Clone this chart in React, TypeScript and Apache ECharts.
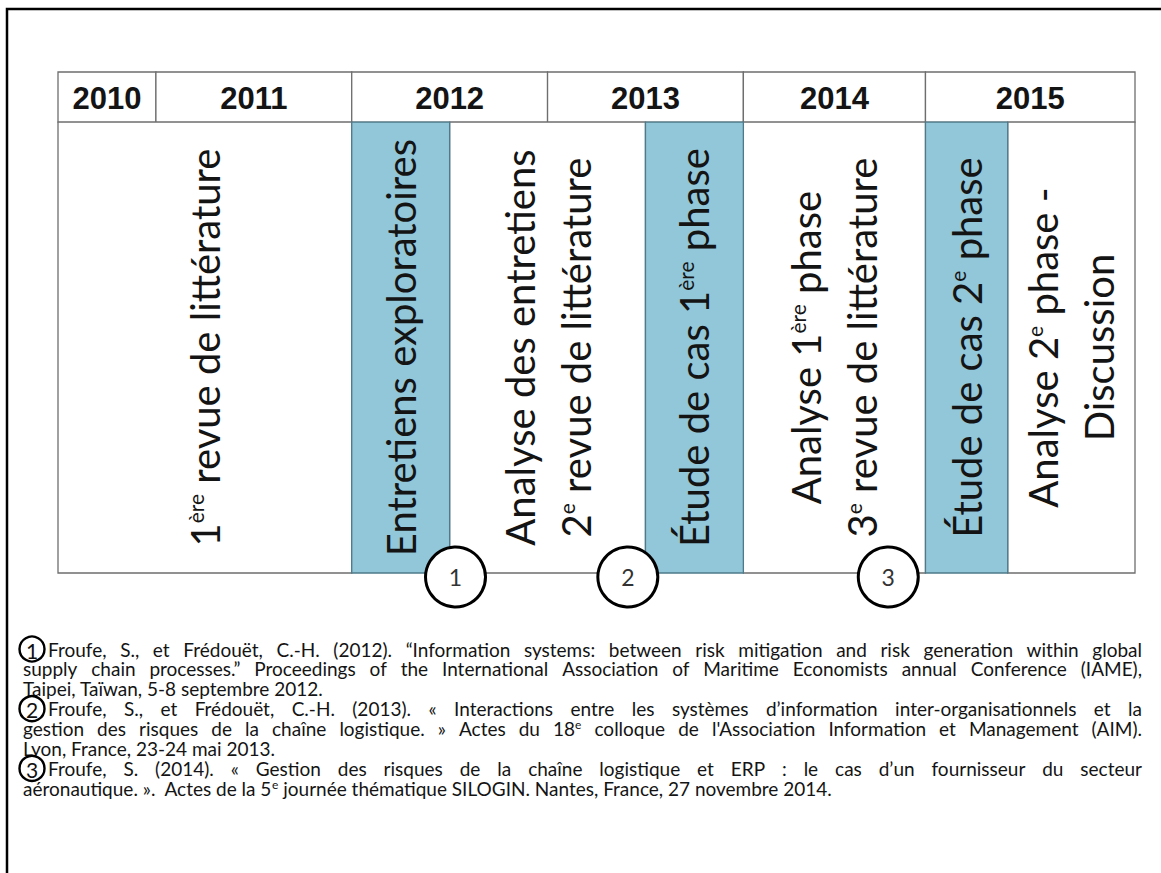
import React, { useEffect, useRef } from 'react';
import * as echarts from 'echarts';

// ---- Timeline header (years, as fractional-year spans) ----
const yearLabels = ['2010', '2011', '2012', '2013', '2014', '2015'];
const yearStarts = [2010.5, 2011, 2012, 2013, 2014, 2014.93];
const yearEnds = [2011, 2012, 2013, 2014, 2014.93, 2016];

// ---- Research phases ----
const phaseLabels = [
  '1{sup|ère} revue de littérature',
  'Entretiens exploratoires',
  'Analyse des entretiens\n2{sup|e} revue de littérature',
  'Étude de cas 1{sup|ère} phase',
  'Analyse 1{sup|ère} phase\n3{sup|e} revue de littérature',
  'Étude de cas 2{sup|e} phase',
  'Analyse 2{sup|e} phase -\nDiscussion',
];
const phaseStarts = [2010.5, 2012, 2012.5, 2013.5, 2014, 2014.93, 2015.35];
const phaseEnds = [2012, 2012.5, 2013.5, 2014, 2014.93, 2015.35, 2016];
const phaseFieldwork = [false, true, false, true, false, true, false];

// ---- Publications (circled markers) ----
const publicationIds = ['1', '2', '3'];
const publicationDates = [2012.53, 2013.41, 2014.74];

// ---- References (footnotes); "^" marks a superscript suffix ----
const referenceLines = [
  [
    'Froufe, S., et Frédouët, C.-H. (2012). “Information systems: between risk mitigation and risk generation within global',
    'supply chain processes.” Proceedings of the International Association of Maritime Economists annual Conference (IAME),',
    'Taipei, Taïwan, 5-8 septembre 2012.',
  ],
  [
    'Froufe, S., et Frédouët, C.-H. (2013). « Interactions entre les systèmes d’information inter-organisationnels et la',
    "gestion des risques de la chaîne logistique. » Actes du 18^e colloque de l'Association Information et Management (AIM).",
    'Lyon, France, 23-24 mai 2013.',
  ],
  [
    'Froufe, S. (2014). « Gestion des risques de la chaîne logistique et ERP : le cas d’un fournisseur du secteur',
    'aéronautique. ».  Actes de la 5^e journée thématique SILOGIN. Nantes, France, 27 novembre 2014.',
  ],
];

const FONT = 'Lato';
const HEAD_FONT = '"Liberation Sans", Arial, sans-serif';
const BLUE = '#92C6D9';
const BLUE_EDGE = '#4E7B8B';
const GRID_LINE = '#6e6e6e';
const TEXT = '#141414';

export default function App() {
  const ref = useRef<HTMLDivElement>(null);

  useEffect(() => {
    if (!ref.current) return;
    const chart = echarts.init(ref.current, undefined, { renderer: 'svg' });

    const ctx = document.createElement('canvas').getContext('2d') as CanvasRenderingContext2D;
    const measure = (t: string, size: number) => {
      ctx.font = `normal normal ${size}px ${FONT}`;
      return ctx.measureText(t).width;
    };

    const FN_SIZE = 19;
    const SUP_SIZE = 12;
    const LINE_STEP = 19.9;
    const FIRST_Y = 649;
    const X_FIRST = 48;
    const X_CONT = 23;
    const RIGHT = 1142;
    const CIRCLE_X = 32;

    const toRich = (s: string) => s.replace(/\^([^\s]+)/g, '{s|$1}');
    const wordWidth = (w: string) => {
      const idx = w.indexOf('^');
      if (idx < 0) return measure(w, FN_SIZE);
      return measure(w.slice(0, idx), FN_SIZE) + measure(w.slice(idx + 1), SUP_SIZE);
    };

    const graphics: any[] = [
      {
        type: 'rect',
        shape: { x: 7, y: 9, width: 1190, height: 900 },
        style: { fill: 'none', stroke: '#000', lineWidth: 2.5 },
        silent: true,
      },
    ];

    let lineIndex = 0;
    referenceLines.forEach((lines, r) => {
      const firstY = FIRST_Y + lineIndex * LINE_STEP;
      graphics.push({
        type: 'circle',
        shape: { cx: CIRCLE_X, cy: firstY, r: 12.5 },
        style: { fill: '#fff', stroke: '#000', lineWidth: 2.4 },
        z: 10,
      });
      graphics.push({
        type: 'text',
        x: CIRCLE_X,
        y: firstY + 1,
        style: {
          text: String(r + 1),
          fontSize: 21,
          lineHeight: 17,
          fontFamily: FONT,
          fill: '#111',
          align: 'center',
          verticalAlign: 'middle',
        },
        z: 11,
      });
      lines.forEach((line, li) => {
        const y = FIRST_Y + lineIndex * LINE_STEP;
        const x0 = li === 0 ? X_FIRST : X_CONT;
        const justify = li < lines.length - 1;
        let text: string;
        const rich: any = {
          s: { fontSize: SUP_SIZE, fontFamily: FONT, fill: TEXT, padding: [0, 0, 8, 0] },
        };
        if (justify) {
          const words = line.split(' ');
          const total = words.reduce((a, w) => a + wordWidth(w), 0);
          const gap = Math.max(2, (RIGHT - x0 - total) / (words.length - 1));
          rich.g = { width: gap, fontSize: FN_SIZE, fontFamily: FONT };
          text = words.map(toRich).join('{g| }');
        } else {
          text = toRich(line);
        }
        graphics.push({
          type: 'text',
          x: x0,
          y,
          style: {
            text,
            rich,
            fontSize: FN_SIZE,
            fontFamily: FONT,
            fill: TEXT,
            lineHeight: 19,
            align: 'left',
            verticalAlign: 'middle',
          },
          z: 5,
        });
        lineIndex++;
      });
    });

    const option: any = {
      animation: false,
      backgroundColor: '#fff',
      grid: { left: 58, top: 72, width: 1077, height: 551.1 },
      xAxis: { type: 'value', min: 2010.5, max: 2016, show: false },
      yAxis: { type: 'value', min: -1, max: 10, show: false },
      series: [
        {
          type: 'custom',
          name: 'Années',
          encode: { x: [0, 1], y: [2, 3] },
          data: yearLabels.map((_, i) => [yearStarts[i], yearEnds[i], 9, 10]),
          renderItem: (params: any, api: any) => {
            const i = params.dataIndex;
            const a = api.coord([api.value(0), api.value(3)]);
            const b = api.coord([api.value(1), api.value(2)]);
            return {
              type: 'group',
              children: [
                {
                  type: 'rect',
                  shape: { x: a[0], y: a[1], width: b[0] - a[0], height: b[1] - a[1] },
                  style: { fill: '#fff', stroke: GRID_LINE, lineWidth: 1.3 },
                },
                {
                  type: 'text',
                  x: (a[0] + b[0]) / 2,
                  y: (a[1] + b[1]) / 2 + 1,
                  style: {
                    text: yearLabels[i],
                    fontSize: 31,
                    fontWeight: 'bold',
                    fontFamily: HEAD_FONT,
                    fill: TEXT,
                    align: 'center',
                    verticalAlign: 'middle',
                  },
                },
              ],
            };
          },
        },
        {
          type: 'custom',
          name: 'Phases',
          encode: { x: [0, 1], y: [2, 3] },
          data: phaseLabels.map((_, i) => [phaseStarts[i], phaseEnds[i], 0, 9]),
          renderItem: (params: any, api: any) => {
            const i = params.dataIndex;
            const a = api.coord([api.value(0), api.value(3)]);
            const b = api.coord([api.value(1), api.value(2)]);
            const blue = phaseFieldwork[i];
            return {
              type: 'group',
              z2: blue ? 5 : 1,
              children: [
                {
                  type: 'rect',
                  z2: blue ? 5 : 1,
                  shape: { x: a[0], y: a[1], width: b[0] - a[0], height: b[1] - a[1] },
                  style: {
                    fill: blue ? BLUE : '#fff',
                    stroke: blue ? BLUE_EDGE : GRID_LINE,
                    lineWidth: 1.3,
                  },
                },
                {
                  type: 'text',
                  z2: 6,
                  x: (a[0] + b[0]) / 2,
                  y: (a[1] + b[1]) / 2,
                  rotation: Math.PI / 2,
                  style: {
                    text: phaseLabels[i],
                    fontSize: 40,
                    fontFamily: FONT,
                    fill: TEXT,
                    lineHeight: 56,
                    align: 'center',
                    verticalAlign: 'middle',
                    rich: {
                      sup: {
                        fontSize: 21,
                        fontFamily: FONT,
                        fill: TEXT,
                        padding: [0, 0, 18, 0],
                      },
                    },
                  },
                },
              ],
            };
          },
        },
        {
          type: 'scatter',
          name: 'Publications',
          z: 10,
          symbol: 'circle',
          symbolSize: 60,
          data: publicationDates.map((d) => [d, -0.08]),
          itemStyle: { color: '#fff', borderColor: '#000', borderWidth: 3, opacity: 1 },
          label: {
            show: true,
            position: 'inside',
            formatter: (p: any) => publicationIds[p.dataIndex],
            fontSize: 23,
            fontFamily: FONT,
            color: '#333',
          },
          emphasis: { disabled: true },
        },
      ],
      graphic: { elements: graphics },
    };

    chart.setOption(option);
    return () => chart.dispose();
  }, []);

  return (
    <div
      ref={ref}
      style={{ position: 'fixed', left: 0, top: 0, width: 1161, height: 873, background: '#fff' }}
    />
  );
}
